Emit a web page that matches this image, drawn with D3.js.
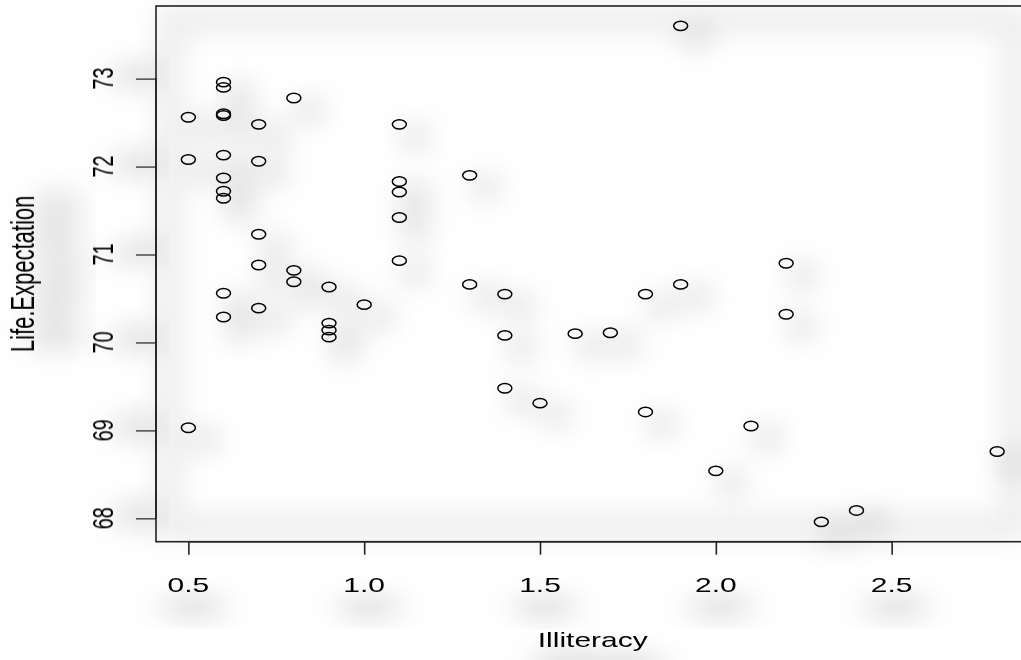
<!DOCTYPE html>
<html>
<head>
<meta charset="utf-8">
<script src="https://cdn.jsdelivr.net/npm/d3@7"></script>
<style>
  html, body { margin: 0; padding: 0; background: #fff; }
  svg { display: block; }
  text { font-family: "Liberation Sans", Arial, Helvetica, sans-serif; fill: #000; }
</style>
</head>
<body>
<svg id="chart" width="1021" height="660"></svg>
<script>
// Illiteracy (% of population) and life expectancy (years) for the 50 US states
const states = ["Alabama","Alaska","Arizona","Arkansas","California","Colorado","Connecticut","Delaware","Florida","Georgia",
  "Hawaii","Idaho","Illinois","Indiana","Iowa","Kansas","Kentucky","Louisiana","Maine","Maryland",
  "Massachusetts","Michigan","Minnesota","Mississippi","Missouri","Montana","Nebraska","Nevada","New Hampshire","New Jersey",
  "New Mexico","New York","North Carolina","North Dakota","Ohio","Oklahoma","Oregon","Pennsylvania","Rhode Island","South Carolina",
  "South Dakota","Tennessee","Texas","Utah","Vermont","Virginia","Washington","West Virginia","Wisconsin","Wyoming"];
const illiteracy = [2.1,1.5,1.8,1.9,1.1,0.7,1.1,0.9,1.3,2.0,
  1.9,0.6,0.9,0.7,0.5,0.6,1.6,2.8,0.7,0.9,
  1.1,0.9,0.6,2.4,0.8,0.6,0.6,0.5,0.7,1.1,
  2.2,1.4,1.8,0.8,0.8,1.1,0.6,1.0,1.3,2.3,
  0.5,1.7,2.2,0.6,0.6,1.4,0.6,1.4,0.7,0.6];
const lifeExp = [69.05,69.31,70.55,70.66,71.71,72.06,72.48,70.06,70.66,68.54,
  73.60,71.87,70.14,70.88,72.56,72.58,70.10,68.76,70.39,70.22,
  71.83,70.63,72.96,68.09,70.69,70.56,72.60,69.03,71.23,70.93,
  70.32,70.55,69.21,72.78,70.82,71.42,72.13,70.43,71.90,67.96,
  72.08,70.11,70.90,72.90,71.64,70.08,71.72,69.48,72.48,70.29];
const xTicks = [0.5, 1.0, 1.5, 2.0, 2.5];
const yTicks = [68, 69, 70, 71, 72, 73];
const xTitle = "Illiteracy";
const yTitle = "Life.Expectation";

const svg = d3.select("#chart");
const defs = svg.append("defs");

// soft grey halo: grow the shape, blur it, shift it and put it under the drawing
function halo(id, grow, blur, dx, dy, opacity) {
  const f = defs.append("filter").attr("id", id)
    .attr("x", "-150%").attr("y", "-150%").attr("width", "400%").attr("height", "400%");
  f.append("feMorphology").attr("in", "SourceAlpha").attr("operator", "dilate").attr("radius", grow).attr("result", "grown");
  f.append("feGaussianBlur").attr("in", "grown").attr("stdDeviation", blur).attr("result", "soft");
  f.append("feOffset").attr("in", "soft").attr("dx", dx).attr("dy", dy).attr("result", "moved");
  f.append("feFlood").attr("flood-color", "#000").attr("flood-opacity", opacity).attr("result", "tint");
  f.append("feComposite").attr("in", "tint").attr("in2", "moved").attr("operator", "in").attr("result", "shade");
  const m = f.append("feMerge");
  m.append("feMergeNode").attr("in", "shade");
  m.append("feMergeNode").attr("in", "SourceGraphic");
}
halo("haloPts", 6, 14, 16, 12, 0.13);
halo("haloTxt", 5, 12, 3, 22, 0.13);
defs.append("filter").attr("id", "softBand")
  .attr("x", "-10%").attr("y", "-10%").attr("width", "120%").attr("height", "120%")
  .append("feGaussianBlur").attr("stdDeviation", 14);

// plot region, with the usual 4% padding on both scales
const plot = { left: 156, right: 1029.5, top: 6, bottom: 541.7 };
const pad = (ext) => { const d = (ext[1] - ext[0]) * 0.04; return [ext[0] - d, ext[1] + d]; };
const x = d3.scaleLinear().domain(pad(d3.extent(illiteracy))).range([plot.left, plot.right]);
const y = d3.scaleLinear().domain(pad(d3.extent(lifeExp))).range([plot.bottom, plot.top]);

const stretch = 1.5;   // glyphs and symbols are wider than tall
const fontSize = 20;

// shaded band along the inside of the frame
svg.append("rect")
  .attr("x", plot.left + 14).attr("y", plot.top + 14)
  .attr("width", plot.right - plot.left - 28).attr("height", plot.bottom - plot.top - 28)
  .attr("fill", "none").attr("stroke", "#000").attr("stroke-opacity", 0.075).attr("stroke-width", 26)
  .attr("filter", "url(#softBand)");

// points
const data = illiteracy.map((v, i) => ({ state: states[i], ill: v, life: lifeExp[i] }));
svg.append("g").attr("filter", "url(#haloPts)")
  .selectAll("ellipse").data(data).join("ellipse")
  .attr("cx", d => x(d.ill)).attr("cy", d => y(d.life))
  .attr("rx", 7).attr("ry", 4.7)
  .attr("fill", "none").attr("stroke", "#000").attr("stroke-width", 1.5);

// frame
svg.append("rect")
  .attr("x", plot.left).attr("y", plot.top)
  .attr("width", plot.right - plot.left).attr("height", plot.bottom - plot.top)
  .attr("fill", "none").attr("stroke", "#222").attr("stroke-width", 1.6);

// x axis
const xAxis = d3.axisBottom(x).tickValues(xTicks).tickSize(13).tickFormat(d3.format(".1f"));
const gx = svg.append("g").attr("transform", `translate(0,${plot.bottom})`).call(xAxis);
gx.select(".domain").attr("d", `M${x(xTicks[0])},0H${x(xTicks[xTicks.length - 1])}`)
  .attr("stroke", "#222").attr("stroke-width", 1.4);
gx.selectAll(".tick line").attr("stroke", "#222").attr("stroke-width", 1.6);
gx.selectAll(".tick text").remove();
svg.append("g").selectAll("text").data(xTicks).join("text")
  .attr("transform", d => `translate(${x(d)},592) scale(${stretch},1)`)
  .attr("text-anchor", "middle").attr("font-size", fontSize)
  .attr("filter", "url(#haloTxt)")
  .text(d => d3.format(".1f")(d));

// y axis
const yAxis = d3.axisLeft(y).tickValues(yTicks).tickSize(20).tickFormat(d3.format("d"));
const gy = svg.append("g").attr("transform", `translate(${plot.left},0)`).call(yAxis);
gy.select(".domain").attr("d", `M0,${y(yTicks[0])}V${y(yTicks[yTicks.length - 1])}`)
  .attr("stroke", "#222").attr("stroke-width", 1.6);
gy.selectAll(".tick line").attr("stroke", "#222").attr("stroke-width", 1.2);
gy.selectAll(".tick text").remove();
svg.append("g").selectAll("text").data(yTicks).join("text")
  .attr("transform", d => `translate(113,${y(d)}) scale(${stretch},1) rotate(-90)`)
  .attr("text-anchor", "middle").attr("font-size", fontSize)
  .attr("filter", "url(#haloTxt)")
  .text(d => d3.format("d")(d));

// axis titles
svg.append("text")
  .attr("transform", `translate(${(plot.left + plot.right) / 2},647) scale(${stretch},1)`)
  .attr("text-anchor", "middle").attr("font-size", fontSize)
  .attr("filter", "url(#haloTxt)")
  .text(xTitle);
svg.append("text")
  .attr("transform", `translate(34,${(plot.top + plot.bottom) / 2}) scale(${stretch},1) rotate(-90)`)
  .attr("text-anchor", "middle").attr("font-size", 22)
  .attr("filter", "url(#haloTxt)")
  .text(yTitle);
</script>
</body>
</html>
